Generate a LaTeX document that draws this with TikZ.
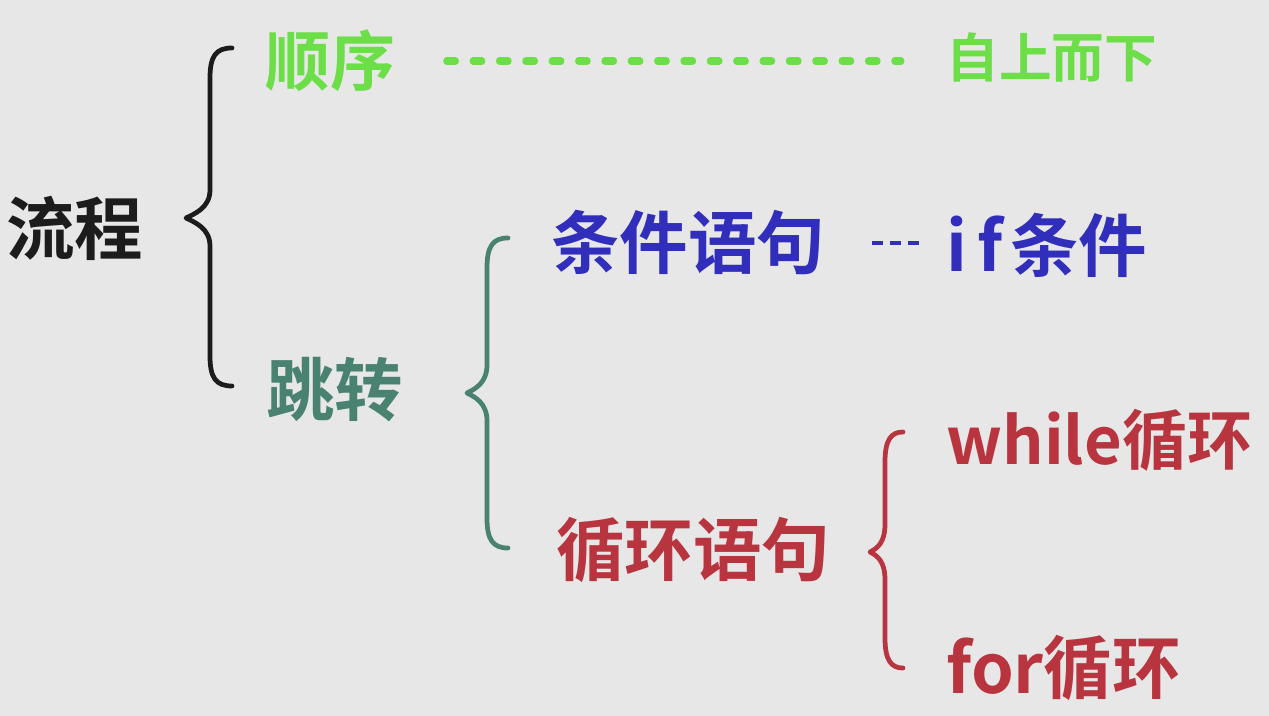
\documentclass[tikz,border=0pt]{standalone}
\usepackage{fontspec}
\usepackage{xcolor}
\usepackage{tikz}
\usetikzlibrary{positioning, calc}
\newfontfamily\cjk{Noto Sans CJK SC}[BoldFont={Noto Sans CJK SC Bold}]
\definecolor{paper}{RGB}{231,231,231}
\definecolor{inkc}{RGB}{28,28,28}
\definecolor{seqc}{RGB}{108,222,72}
\definecolor{jumpc}{RGB}{74,130,114}
\definecolor{condc}{RGB}{48,46,186}
\definecolor{loopc}{RGB}{184,52,62}

\begin{document}
\begin{tikzpicture}[x=0.02cm, y=-0.02cm,
  lbl/.style={inner sep=0pt, anchor=west, font=\cjk\bfseries\fontsize{39}{42}\selectfont},
  bracec/.style={line width=2.7pt, line cap=round, line join=round}]
  \fill[paper] (0,0) rectangle (1269,716);
  \useasboundingbox (0,0) rectangle (1269,716);
  % braces: end x / line x / tip x / top y / tip y / bottom y / colour
  \foreach \xe/\xl/\xt/\yt/\ym/\yb/\c in {232/210/186/48/218/386/inkc,
      508/487/467/238/393/548/jumpc, 903/885/870/432/552/668/loopc} {
    \draw[bracec, \c] (\xe,\yt) .. controls (\xl+6,\yt) and (\xl,\yt+8) .. (\xl,\yt+30)
      -- (\xl,\ym-28) .. controls (\xl,\ym-10) and (\xt+8,\ym-4) .. (\xt,\ym)
      .. controls (\xt+8,\ym+4) and (\xl,\ym+10) .. (\xl,\ym+28)
      -- (\xl,\yb-30) .. controls (\xl,\yb-8) and (\xl+6,\yb) .. (\xe,\yb);
  }
  \node[lbl, text=inkc] (flow) at (6,228) {流程};
  \node[lbl, text=seqc, font=\cjk\bfseries\fontsize{37}{40}\selectfont] (seq) at (265,61) {顺序};
  \node[lbl, text=seqc, font=\cjk\bfseries\fontsize{30}{33}\selectfont] (topdown) at (946,57) {自上而下};
  \node[lbl, text=jumpc] (jump) at (266,390) {跳转};
  \node[lbl, text=condc] (cond) at (551,243) {条件语句};
  \node[lbl, text=condc] (ifc) at (946,245) {i\kern6pt f\kern4pt 条件};
  \node[lbl, text=loopc] (loop) at (556,550) {循环语句};
  \node[lbl, text=loopc, font=\cjk\bfseries\fontsize{37}{40}\selectfont] (wloop) at (946,440) {while循环};
  \node[lbl, text=loopc] (floop) at (946,668) {for循环};
  \draw[seqc, line width=4pt, line cap=round, dash pattern=on 5pt off 10pt,
    shorten <=1.02cm, shorten >=0.9cm] (seq.east) -- (seq.east -| topdown.west);
  \draw[condc, line width=2.5pt, dash pattern=on 6.2pt off 4pt,
    shorten <=0.92cm, shorten >=0.5cm] (cond.east) -- (cond.east -| ifc.west);
\end{tikzpicture}
\end{document}
